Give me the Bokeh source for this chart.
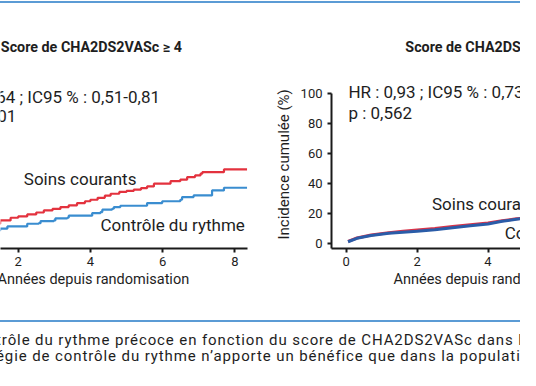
from bokeh.plotting import figure
from bokeh.models import Range1d, Div, FixedTicker, Title, InlineStyleSheet
from bokeh.layouts import column, row
from bokeh.core.properties import value
from bokeh.embed import file_html
from bokeh.resources import INLINE

# ---- data ----
# Left panel: CHA2DS2VASc >= 4 (step curves)
left_red_t = [0, 0.25, 0.5, 0.75, 1.0, 1.25, 1.5, 1.79, 2.0, 2.25, 2.5, 2.71, 2.95, 3.17, 3.4, 3.63,
              3.85, 4.0, 4.2, 4.4, 4.56, 4.8, 5.0, 5.2, 5.4, 5.57, 5.76, 6.22, 6.49, 6.68, 6.9, 7.05,
              7.10, 7.70, 8.34]
left_red_v = [0.8, 3.5, 6.0, 8.5, 11.0, 13.3, 15.5, 17.3, 18.2, 19.5, 20.8, 22.2, 23.2, 24.4, 25.6, 27.1,
              28.3, 29.3, 30.6, 32.0, 33.3, 34.5, 35.2, 36.0, 37.0, 38.2, 40.0, 41.7, 42.7, 44.4, 45.5, 46.7,
              47.7, 49.5, 49.5]
left_blue_t = [0, 0.25, 0.5, 0.75, 1.0, 1.25, 1.5, 1.70, 2.25, 2.57, 2.62, 2.99, 3.03, 3.36, 3.40, 4.05,
               4.28, 4.33, 4.60, 4.65, 4.83, 5.57, 5.99, 6.49, 6.54, 6.86, 7.37, 7.70, 8.34]
left_blue_v = [0.8, 2.5, 4.3, 6.0, 7.5, 8.8, 10.0, 11.5, 13.3, 13.7, 15.1, 15.5, 16.9, 17.3, 18.7, 20.4,
               21.1, 22.7, 23.3, 24.4, 25.3, 27.1, 28.3, 29.3, 31.1, 32.2, 35.5, 37.3, 37.3]

# Right panel: CHA2DS2VASc < 4 (smooth curves)
right_t = [0.05, 0.3, 0.7, 1.2, 1.6, 2.0, 2.5, 3.0, 3.5, 4.0, 4.4, 4.8, 5.2, 5.5]
right_red_v = [1.5, 3.8, 5.8, 7.3, 8.3, 9.2, 10.2, 11.4, 12.6, 13.8, 15.3, 16.6, 17.5, 18.0]
right_blue_v = [1.3, 3.6, 5.5, 6.9, 7.7, 8.3, 9.3, 10.6, 11.9, 13.2, 14.9, 16.3, 17.3, 17.9]

x_ticks = [0, 2, 4, 6, 8]
y_ticks = [0, 20, 40, 60, 80, 100]

left_title = "Score de CHA2DS2VASc ≥ 4"
right_title = "Score de CHA2DS2VASc < 4"
left_stats = ["HR : 0,64 ; IC95 % : 0,51-0,81", "p < 0,001"]
right_stats = ["HR : 0,93 ; IC95 % : 0,73-1,19", "p : 0,562"]
label_usual = "Soins courants"
label_rhythm = "Contrôle du rythme"
x_label = "Années depuis randomisation"
y_label = "Incidence cumulée (%)"
caption = ["trôle du rythme précoce en fonction du score de CHA2DS2VASc dans l’étude",
           "égie de contrôle du rythme n’apporte un bénéfice que dans la population"]

FONT = "Roboto"
TXT = "#1e1e1e"
Y0, Y1 = -3.2, 158.13
DIV_CSS = InlineStyleSheet(css="div { vertical-align: top; }")


def style_axis(ax):
    ax.axis_line_width = 2
    ax.axis_line_color = "#1a1a1a"
    ax.major_tick_line_width = 2
    ax.major_tick_line_color = "#1a1a1a"
    ax.major_tick_out = 4
    ax.major_tick_in = 0
    ax.minor_tick_line_color = None
    ax.major_label_text_font = FONT
    ax.major_label_text_font_size = "13px"
    ax.major_label_text_color = TXT


def add_texts(p, title, stats, title_x, stats_x, stats_y, usual_xy, rhythm_xy):
    p.text(x=[title_x], y=[131], text=[title],
           text_font=value(FONT), text_font_size=value("14.3px"), text_font_style="bold",
           text_baseline="middle", text_align="left", text_color=TXT)
    p.text(x=[stats_x, stats_x], y=stats_y, text=stats,
           text_font=value(FONT), text_font_size=value("17px"),
           text_baseline="middle", text_align="left", text_color=TXT)
    p.text(x=[usual_xy[0]], y=[usual_xy[1]], text=[label_usual],
           text_font=value(FONT), text_font_size=value("17px"),
           text_baseline="middle", text_align="left", text_color=TXT)
    p.text(x=[rhythm_xy[0]], y=[rhythm_xy[1]], text=[label_rhythm],
           text_font=value(FONT), text_font_size=value("17px"),
           text_baseline="middle", text_align="left", text_color=TXT)


def axis_title(text, align, offset, standoff, size):
    return Title(text=text, align=align, offset=offset, standoff=standoff,
                 text_font=FONT, text_font_size=size, text_font_style="normal",
                 text_color=TXT)


# ---- top rule ----
top = Div(width=520, height=6, margin=0, stylesheets=[DIV_CSS], text=(
    '<div style="position:relative;width:520px;height:6px;overflow:hidden;">'
    '<div style="position:absolute;left:0;top:1px;width:520px;height:2px;background:#5b9bd5;"></div>'
    '</div>'))

# ---- left panel ----
pl = figure(width=268, height=302, x_range=Range1d(1.510, 8.352), y_range=Range1d(Y0, Y1),
            output_backend="svg", toolbar_location=None, y_axis_location=None,
            min_border_left=0, min_border_right=21, min_border_top=0, min_border_bottom=60)
pl.grid.visible = False
pl.outline_line_color = None
pl.xaxis.ticker = FixedTicker(ticks=x_ticks)
pl.xaxis.bounds = (-0.42, 8.35)
style_axis(pl.xaxis[0])
pl.xaxis.major_label_standoff = 4
pl.add_layout(axis_title(x_label, "left", -3, 0, "14.5px"), "below")

pl.step(left_red_t, left_red_v, mode="after", line_color="#e3323e", line_width=2.2)
pl.step(left_blue_t, left_blue_v, mode="after", line_color="#3a8dd0", line_width=2.2)
add_texts(pl, left_title, left_stats, 1.52, 0.06, [98.1, 84.8], (2.155, 43.2), (4.28, 12.2))

# ---- right panel ----
pr = figure(width=252, height=302, x_range=Range1d(-0.417, 4.917), y_range=Range1d(Y0, Y1),
            output_backend="svg", toolbar_location=None,
            min_border_left=60, min_border_right=0, min_border_top=0, min_border_bottom=60)
pr.grid.visible = False
pr.outline_line_color = None
pr.xaxis.ticker = FixedTicker(ticks=x_ticks)
pr.xaxis.bounds = (-0.417, 8.35)
pr.yaxis.ticker = FixedTicker(ticks=y_ticks)
pr.yaxis.bounds = (Y0, 100)
style_axis(pr.xaxis[0])
style_axis(pr.yaxis[0])
pr.xaxis.major_label_standoff = 4
pr.yaxis.major_label_standoff = 5
pr.add_layout(axis_title(x_label, "left", 62, 0, "14.5px"), "below")
pr.add_layout(axis_title(y_label, "left", 9, 9, "15px"), "left")

pr.line(right_t, right_red_v, line_color="#d8344a", line_width=3)
pr.line(right_t, right_blue_v, line_color="#2a5ca8", line_width=3)
add_texts(pr, right_title, right_stats, 1.667, 0.06, [100.8, 86.8], (2.42, 26.2), (4.47, 6.9))

# ---- caption ----
cap = Div(width=520, height=62, margin=0, stylesheets=[DIV_CSS], text=(
    '<div style="position:relative;width:520px;height:62px;overflow:hidden;">'
    '<div style="position:absolute;left:0;top:12px;width:520px;height:2px;background:#5b9bd5;"></div>'
    '<div style="position:absolute;left:-4px;top:24px;white-space:nowrap;font-family:Roboto;'
    'font-size:15px;letter-spacing:0.9px;line-height:16px;color:#1e1e1e;">'
    + caption[0] + '<br>' + caption[1] + '</div>'
    '</div>'))

layout = column(top, row(pl, pr, spacing=0), cap, spacing=0)
open("out.html", "w").write(file_html(layout, INLINE))
